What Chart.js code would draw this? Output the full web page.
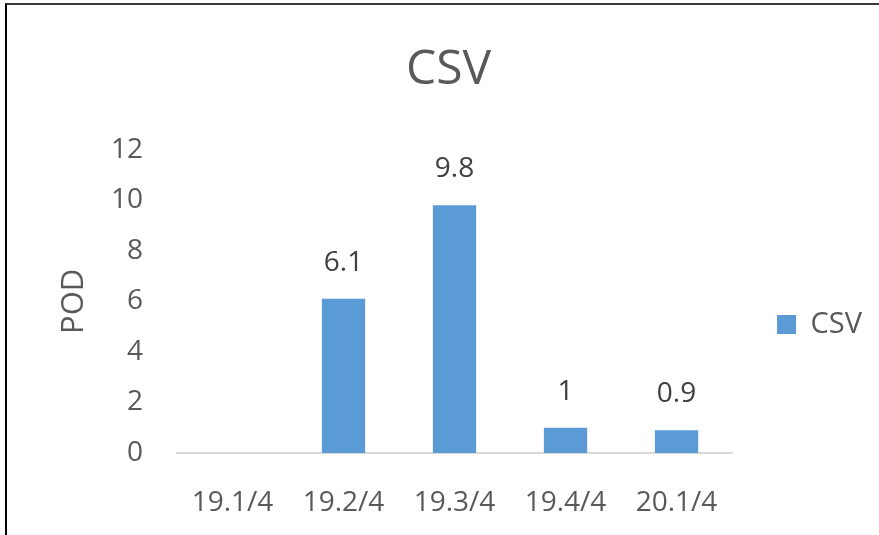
<!DOCTYPE html>
<html>
<head>
<meta charset="utf-8">
<script src="https://cdn.jsdelivr.net/npm/chart.js@4/dist/chart.umd.min.js"></script>
<style>
  html, body { margin: 0; padding: 0; background: #fff; }
  #wrap { position: relative; width: 879px; height: 535px; }
  #frame {
    position: absolute; left: 5px; top: 3px; width: 900px; height: 600px;
    border-left: 2px solid #000; border-top: 2px solid #3a3a3a;
    pointer-events: none;
  }
</style>
</head>
<body>
<div id="wrap">
  <canvas id="podChart" width="879" height="535"></canvas>
  <div id="frame"></div>
</div>
<script>
const categories = ['19.1/4', '19.2/4', '19.3/4', '19.4/4', '20.1/4'];
const csvValues = [null, 6.1, 9.8, 1, 0.9];
const yTicks = [0, 2, 4, 6, 8, 10, 12];

const textGrey = '#595959';
const fontFamily = '"Open Sans", "Noto Sans", sans-serif';

// draws the value above every bar
const barValueLabels = {
  id: 'barValueLabels',
  afterDatasetsDraw(chart) {
    const ctx = chart.ctx;
    ctx.save();
    ctx.font = '28px ' + fontFamily;
    ctx.fillStyle = '#404040';
    ctx.textAlign = 'center';
    ctx.textBaseline = 'middle';
    chart.data.datasets.forEach((ds, i) => {
      chart.getDatasetMeta(i).data.forEach((bar, j) => {
        const v = ds.data[j];
        if (v === null || v === undefined) return;
        ctx.fillText(String(v), bar.x, bar.y - 36);
      });
    });
    ctx.restore();
  }
};

const ctx = document.getElementById('podChart').getContext('2d');
new Chart(ctx, {
  type: 'bar',
  data: {
    labels: categories,
    datasets: [{
      label: 'CSV',
      data: csvValues,
      backgroundColor: '#5B9BD5',
      borderWidth: 0,
      categoryPercentage: 1,
      barPercentage: 0.39
    }]
  },
  options: {
    responsive: false,
    animation: false,
    layout: { padding: { left: 25, right: 7, top: 0, bottom: 0 } },
    plugins: {
      title: {
        display: true,
        text: 'CSV',
        color: textGrey,
        font: { family: fontFamily, size: 48, weight: 'normal' },
        padding: { top: 42, bottom: 50 }
      },
      legend: {
        position: 'right',
        fullSize: false,
        maxWidth: 146,
        title: {
          display: true,
          text: ' ',
          font: { size: 1 },
          padding: { top: 0, bottom: 45 }
        },
        labels: {
          color: textGrey,
          font: { family: fontFamily, size: 29 },
          boxWidth: 19,
          boxHeight: 19,
          padding: 45
        }
      },
      tooltip: { enabled: false }
    },
    scales: {
      x: {
        grid: { display: false, drawTicks: false },
        border: { display: true, color: '#d9d9d9', width: 2 },
        ticks: {
          color: textGrey,
          font: { family: fontFamily, size: 28 },
          padding: 33,
          maxRotation: 0
        },
        afterFit(scale) { scale.height = 82; }
      },
      y: {
        min: 0,
        max: 12,
        grid: { display: false, drawTicks: false },
        border: { display: false },
        afterBuildTicks(scale) { scale.ticks = yTicks.map(v => ({ value: v })); },
        ticks: {
          color: textGrey,
          font: { family: fontFamily, size: 28 },
          padding: 34
        },
        title: {
          display: true,
          text: 'POD',
          color: textGrey,
          font: { family: fontFamily, size: 31 },
          padding: { top: 31, bottom: 0 }
        },
        afterFit(scale) { scale.width = 152; }
      }
    }
  },
  plugins: [barValueLabels]
});
</script>
</body>
</html>
